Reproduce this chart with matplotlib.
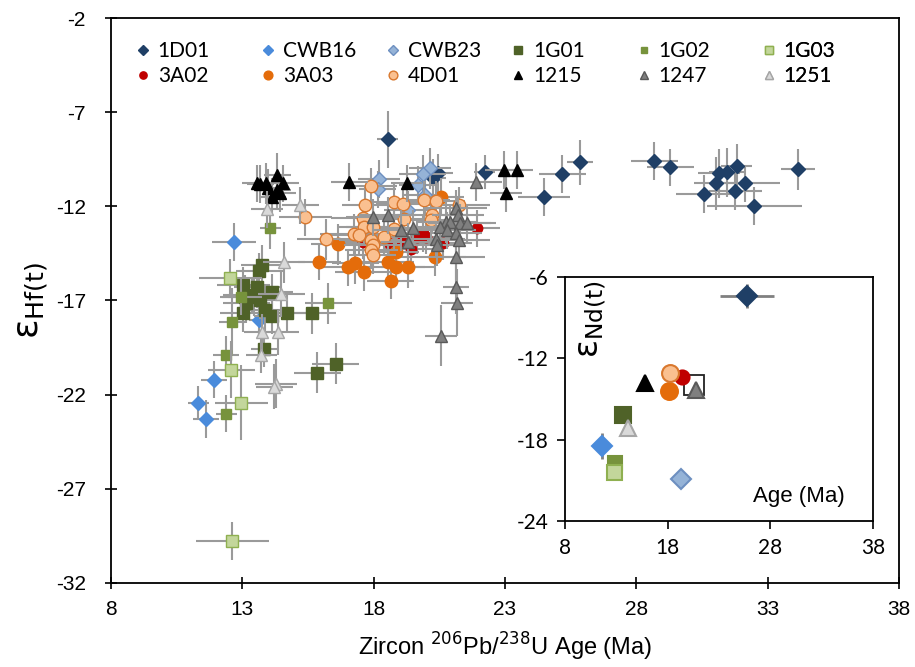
import numpy as np
import matplotlib
matplotlib.use("Agg")
import matplotlib.pyplot as plt
from matplotlib import font_manager as fm
from matplotlib.lines import Line2D


def have_font(name):
    try:
        fm.findfont(fm.FontProperties(family=name), fallback_to_default=False)
        return True
    except Exception:
        return False


NARROW = "Liberation Sans Narrow" if have_font("Liberation Sans Narrow") else "Liberation Sans"
SOFT = "Lato"
plt.rcParams["axes.unicode_minus"] = False

# =========================
# MAIN PANEL DATA  (age Ma, eHf, age err, eHf err)
# =========================
d1D01_x = [18.53, 20.44, 20.25, 22.24, 24.49, 25.18, 25.86, 28.69, 29.30, 30.60, 31.02,
           31.17, 31.47, 31.82, 32.16, 31.78, 32.50, 34.15]
d1D01_y = [-8.44, -10.24, -10.51, -10.19, -11.52, -10.30, -9.66, -9.61, -9.93, -11.36, -10.78,
           -10.24, -10.19, -9.87, -10.78, -11.20, -12.00, -10.03]
d1D01_xe = [0.4, 0.6, 0.5, 0.4, 1.0, 0.9, 0.5, 0.9, 0.9, 1.1, 0.8, 0.8, 0.7, 0.6, 1.3, 1.0, 1.8, 0.65]
d1D01_ye = [1.5, 1.0, 1.0, 0.9, 1.0, 1.0, 1.2, 1.0, 1.0, 1.0, 1.4, 1.3, 1.3, 1.2, 1.0, 1.0, 1.0, 1.1]

cwb16_x = [12.69, 13.65, 11.93, 11.32, 11.63]
cwb16_y = [-13.91, -18.06, -21.20, -22.43, -23.28]
cwb16_xe = [0.85, 0.4, 0.5, 0.4, 0.5]
cwb16_ye = [1.0, 0.9, 1.0, 0.9, 1.0]

cwb23_x = [18.19, 18.15, 20.14, 19.87, 19.68, 19.95, 19.30]
cwb23_y = [-10.56, -11.10, -9.98, -10.30, -10.88, -11.41, -12.21]
cwb23_xe = [0.8, 0.7, 0.8, 0.9, 0.7, 0.8, 0.9]
cwb23_ye = [1.0, 1.0, 1.1, 1.0, 1.0, 1.0, 1.0]

g01_x = [13.76, 13.65, 13.04, 13.57, 13.38, 13.11, 13.46, 13.69, 13.15, 14.15, 13.88, 14.15,
         13.04, 14.72, 15.67, 13.84, 15.86, 16.55]
g01_y = [-15.14, -15.46, -16.20, -16.31, -16.73, -16.84, -16.84, -17.00, -17.11, -16.57, -17.48,
         -17.80, -17.69, -17.64, -17.69, -19.55, -20.83, -20.35]
g01_xe = [0.8, 0.9, 1.0, 0.9, 1.1, 0.9, 1.0, 0.8, 0.9, 0.8, 0.9, 0.7, 0.9, 1.2, 0.9, 0.5, 0.9, 0.9]
g01_ye = [1.1, 1.0, 1.0, 1.1, 1.0, 1.2, 1.0, 1.0, 1.1, 1.0, 1.2, 1.0, 1.0, 1.0, 1.1, 1.0, 1.1, 1.1]

g02_x = [14.07, 12.96, 12.62, 16.28, 12.39, 12.39]
g02_y = [-13.17, -16.79, -18.12, -17.16, -19.87, -23.01]
g02_xe = [0.4, 0.8, 0.5, 0.9, 0.5, 0.4]
g02_ye = [1.1, 1.0, 1.8, 1.1, 1.0, 1.0]

g03_x = [12.54, 12.58, 12.96, 12.62]
g03_y = [-15.78, -20.67, -22.43, -29.77]
g03_xe = [1.2, 0.9, 1.0, 1.4]
g03_ye = [1.0, 1.5, 2.0, 1.0]

a02_x = [17.58, 18.57, 19.07, 19.41, 19.64, 19.87, 19.98, 20.63, 21.93]
a02_y = [-13.91, -13.97, -13.86, -14.29, -13.65, -13.44, -13.65, -13.97, -13.17]
a02_xe = [0.9, 1.0, 0.9, 1.0, 1.1, 0.9, 1.0, 1.1, 0.9]
a02_ye = [0.9, 1.0, 0.9, 1.0, 0.9, 1.0, 0.9, 0.9, 1.0]

a03_x = [16.63, 15.94, 17.01, 17.31, 17.62, 18.53, 18.84, 18.84, 19.30, 18.65, 20.33, 20.56]
a03_y = [-14.02, -14.93, -15.24, -15.03, -15.51, -14.98, -14.45, -15.24, -15.24, -15.94, -14.71,
         -11.52]
a03_xe = [1.0, 0.8, 1.0, 0.9, 1.1, 1.0, 0.9, 1.1, 1.0, 0.9, 1.2, 0.9]
a03_ye = [1.1, 1.0, 1.0, 1.1, 1.0, 1.0, 1.1, 1.0, 1.1, 1.0, 1.0, 1.0]

d4D01_x = [17.89, 17.69, 15.40, 16.17, 17.58, 17.62, 17.27, 17.43, 17.96, 17.89, 17.96, 17.92,
           17.96, 18.38, 18.76, 18.76, 19.11, 19.15, 19.91, 20.37, 20.21, 20.18, 21.24]
d4D01_y = [-10.94, -11.95, -12.59, -13.76, -12.64, -13.12, -13.49, -13.54, -13.12, -13.81, -14.07,
           -14.34, -14.61, -13.65, -13.22, -11.79, -11.89, -12.69, -11.68, -11.73, -12.48, -12.74,
           -11.95]
d4D01_xe = [1.0, 0.9, 1.0, 1.1, 1.2, 1.0, 1.3, 1.1, 1.0, 1.2, 1.1, 1.0, 0.9, 1.0, 1.2, 1.1, 1.0,
            1.2, 1.0, 1.1, 1.3, 1.0, 1.2]
d4D01_ye = [1.0, 1.1, 1.0, 1.1, 1.0, 1.0, 1.1, 1.0, 1.0, 1.0, 1.1, 1.0, 1.0, 1.0, 1.1, 1.0, 1.0,
            1.0, 1.0, 1.1, 1.0, 1.0, 1.0]

t1215_x = [13.69, 13.57, 13.92, 13.99, 14.34, 14.56, 14.34, 14.15, 14.45, 17.08, 19.26, 22.96,
           23.46, 23.04]
t1215_y = [-10.83, -10.78, -10.78, -11.04, -10.35, -10.78, -11.15, -11.52, -11.31, -10.72, -10.78,
           -10.08, -10.08, -11.31]
t1215_xe = [0.5, 0.6, 0.5, 0.6, 0.5, 0.6, 0.5, 0.5, 0.6, 0.7, 0.6, 0.7, 0.6, 0.6]
t1215_ye = [1.0, 1.0, 1.1, 1.0, 1.2, 1.0, 1.0, 1.0, 1.0, 1.0, 1.0, 1.0, 1.0, 1.0]

t1247_x = [17.96, 18.53, 19.03, 19.49, 19.30, 20.37, 20.40, 21.13, 21.21, 20.75, 20.90, 21.28,
           21.55, 20.52, 20.79, 21.13, 21.24, 21.13, 21.13, 21.17, 20.56, 21.89]
t1247_y = [-12.59, -12.48, -13.28, -13.17, -13.91, -13.76, -14.07, -12.11, -12.48, -12.85, -12.85,
           -12.90, -12.90, -13.12, -13.28, -13.44, -13.81, -14.71, -16.31, -17.11, -18.86, -10.72]
t1247_xe = [1.0, 1.1, 1.0, 1.2, 1.0, 1.1, 1.0, 1.2, 1.0, 1.1, 1.0, 1.2, 1.1, 1.0, 1.1, 1.0, 1.2,
            1.1, 0.5, 0.6, 0.6, 1.0]
t1247_ye = [1.0, 1.0, 1.1, 1.0, 1.0, 1.0, 1.1, 1.0, 1.0, 1.1, 1.0, 1.0, 1.0, 1.0, 1.0, 1.1, 1.0,
            1.2, 1.4, 1.8, 1.6, 1.0]

t1251_x = [13.95, 15.21, 14.60, 14.49, 13.76, 14.37, 13.73, 14.30, 14.22]
t1251_y = [-12.16, -11.95, -14.98, -16.68, -18.70, -18.70, -19.87, -21.41, -21.57]
t1251_xe = [0.6, 0.7, 0.8, 0.9, 0.7, 0.8, 0.6, 0.8, 0.7]
t1251_ye = [1.0, 1.0, 1.1, 1.2, 1.0, 1.2, 1.0, 1.3, 1.2]

# =========================
# INSET DATA  (age Ma, eNd)
# =========================
nd_samples = ["1D01", "CWB16", "CWB23", "1G01", "1G02", "1G03",
              "3A02", "3A03", "4D01", "1215", "1247", "1251"]
nd_age = [25.72, 11.60, 19.30, 13.65, 12.87, 12.77, 19.39, 18.13, 18.22, 15.79, 20.76, 14.13]
nd_eps = [-7.40, -18.46, -20.87, -16.18, -19.72, -20.38, -13.35, -14.43, -13.10, -13.84, -14.32,
          -17.14]
nd_age_err = [2.6, 0.0, 0.0, 0.0, 0.0, 0.0, 0.0, 0.0, 0.0, 0.0, 0.0, 0.0]
nd_eps_err = [0.9, 0.95, 0.0, 0.0, 0.0, 0.0, 0.0, 0.0, 0.0, 0.0, 0.0, 0.0]
box_age = [20.6]
box_eps = [-14.0]

# name, x, y, xerr, yerr, marker, size, face, edge
SERIES = [
    ("1D01", d1D01_x, d1D01_y, d1D01_xe, d1D01_ye, "D", 7.5, "#1F3F66", "#1F3F66"),
    ("CWB16", cwb16_x, cwb16_y, cwb16_xe, cwb16_ye, "D", 7.5, "#4A8BDB", "#4A8BDB"),
    ("CWB23", cwb23_x, cwb23_y, cwb23_xe, cwb23_ye, "D", 7.5, "#95B3D7", "#6D8FC0"),
    ("1G01", g01_x, g01_y, g01_xe, g01_ye, "s", 8.5, "#4F6228", "#4F6228"),
    ("1G02", g02_x, g02_y, g02_xe, g02_ye, "s", 7.0, "#77933C", "#77933C"),
    ("1G03", g03_x, g03_y, g03_xe, g03_ye, "s", 8.0, "#C3D69B", "#8FB050"),
    ("3A02", a02_x, a02_y, a02_xe, a02_ye, "o", 7.5, "#C00000", "#C00000"),
    ("3A03", a03_x, a03_y, a03_xe, a03_ye, "o", 9.0, "#E46C0A", "#E46C0A"),
    ("4D01", d4D01_x, d4D01_y, d4D01_xe, d4D01_ye, "o", 9.0, "#FAC090", "#D9782E"),
    ("1215", t1215_x, t1215_y, t1215_xe, t1215_ye, "^", 9.0, "#000000", "#000000"),
    ("1247", t1247_x, t1247_y, t1247_xe, t1247_ye, "^", 9.0, "#7F7F7F", "#595959"),
    ("1251", t1251_x, t1251_y, t1251_xe, t1251_ye, "^", 9.0, "#D9D9D9", "#A6A6A6"),
]

ERR_COLOR = "#9A9A9A"

fig = plt.figure(figsize=(9.15, 6.67), dpi=100)
ax = fig.add_axes([0.1213, 0.126, 0.861, 0.847])

for i, (name, x, y, xe, ye, mk, ms, fc, ec) in enumerate(SERIES):
    ax.errorbar(x, y, xerr=xe, yerr=ye, fmt="none", ecolor=ERR_COLOR,
                elinewidth=1.5, capsize=0, zorder=2 + 2 * i)
    ax.plot(x, y, linestyle="none", marker=mk, markersize=ms, markerfacecolor=fc,
            markeredgecolor=ec, markeredgewidth=1.0, zorder=3 + 2 * i)

ax.set_xlim(8, 38)
ax.set_ylim(-32, -2)
ax.set_xticks(np.arange(8, 39, 5))
ax.set_yticks(np.arange(-32, -1, 5))
ax.tick_params(direction="inout", length=8, width=1.2, labelsize=15)
ax.tick_params(axis="x", pad=8)
ax.tick_params(axis="y", pad=14)
for lab in ax.get_xticklabels() + ax.get_yticklabels():
    lab.set_fontfamily(NARROW)
for sp in ax.spines.values():
    sp.set_linewidth(1.3)

plt.rcParams["mathtext.fontset"] = "custom"
plt.rcParams["mathtext.rm"] = NARROW
plt.rcParams["mathtext.it"] = NARROW
ax.set_xlabel(r"Zircon $^{206}$Pb/$^{238}$U Age (Ma)", fontsize=17, family=NARROW, labelpad=9)

fig.text(0.036, 0.55, r"ε$_{\mathrm{Hf(t)}}$", rotation=90, fontsize=26,
         ha="center", va="center", family="DejaVu Sans", math_fontfamily="dejavusans")

# legend: one small legend per column so columns are evenly spaced
cols = [(SERIES[k], SERIES[k + 6]) for k in range(6)]
for c, pair in enumerate(cols):
    handles = [Line2D([], [], linestyle="none", marker=s[5], markersize=s[6] * 0.7,
                      markerfacecolor=s[7], markeredgecolor=s[8]) for s in pair]
    leg = ax.legend(handles, [s[0] for s in pair], loc="upper left",
                    bbox_to_anchor=(0.013 + c * 0.1588, 0.985), frameon=False,
                    handlelength=0.7, handletextpad=0.35, labelspacing=0.25,
                    prop={"family": SOFT, "size": 15}, borderaxespad=0.3)
    ax.add_artist(leg)

# inset
ins = fig.add_axes([0.6175, 0.2189, 0.3366, 0.3658])
ins.set_facecolor("white")
ins.errorbar(nd_age, nd_eps, xerr=nd_age_err, yerr=nd_eps_err, fmt="none",
             ecolor="#808080", elinewidth=2.0, capsize=0, zorder=2)
ins.plot(box_age, box_eps, linestyle="none", marker="s", markersize=15,
         markerfacecolor="none", markeredgecolor="#222222", markeredgewidth=1.3, zorder=3)
style = {s[0]: s for s in SERIES}
for k, name in enumerate(nd_samples):
    s = style[name]
    ins.plot([nd_age[k]], [nd_eps[k]], linestyle="none", marker=s[5],
             markersize=s[6] * 1.35, markerfacecolor=s[7], markeredgecolor=s[8],
             markeredgewidth=1.5, zorder=4 + k)
ins.set_xlim(8, 38)
ins.set_ylim(-24, -6)
ins.set_xticks([8, 18, 28, 38])
ins.set_yticks([-6, -12, -18, -24])
ins.tick_params(direction="out", length=6, width=1.2, labelsize=15, pad=6)
for lab in ins.get_xticklabels() + ins.get_yticklabels():
    lab.set_fontfamily(SOFT)
for sp in ins.spines.values():
    sp.set_linewidth(1.3)
ins.text(0.085, 0.83, r"ε$_{\mathrm{Nd(t)}}$", rotation=90, fontsize=24,
         ha="center", va="center", transform=ins.transAxes, family="DejaVu Sans",
         math_fontfamily="dejavusans")
ins.text(0.76, 0.10, "Age (Ma)", fontsize=16, family="Liberation Sans",
         ha="center", va="center", transform=ins.transAxes)

fig.savefig("out.png", dpi=100)
